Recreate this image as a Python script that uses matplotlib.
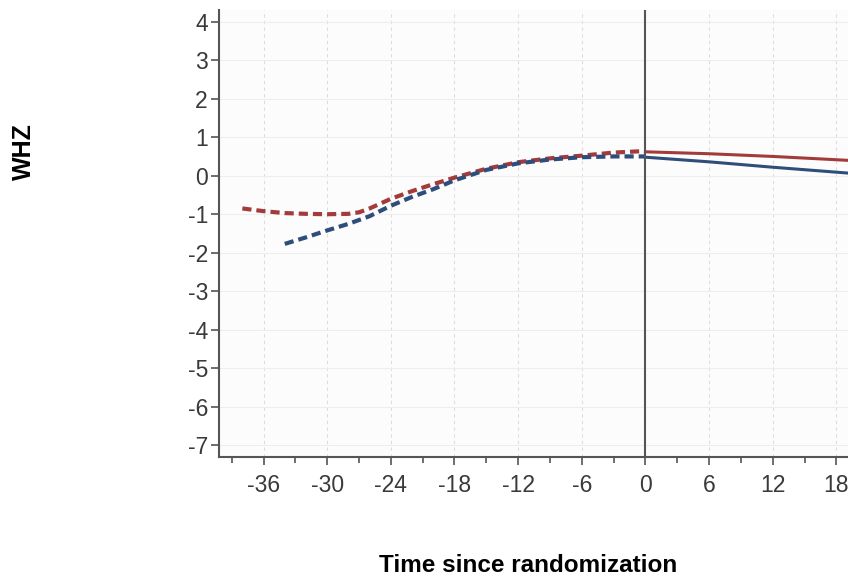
import matplotlib
matplotlib.use("Agg")
import matplotlib.pyplot as plt
from matplotlib.ticker import MultipleLocator

# WHZ trajectories before/after randomization
pre_red_x = [-38, -36, -34, -32, -30, -28, -27, -26, -24, -22, -20, -18, -15, -12, -9, -6, -3, 0]
pre_red_y = [-0.85, -0.92, -0.97, -0.99, -1.0, -0.99, -0.95, -0.85, -0.6, -0.4, -0.22, -0.05, 0.18, 0.35, 0.45, 0.52, 0.6, 0.64]
pre_blue_x = [-34, -32, -30, -28, -26, -24, -22, -20, -18, -15, -12, -9, -6, -3, 0]
pre_blue_y = [-1.77, -1.6, -1.42, -1.25, -1.05, -0.78, -0.55, -0.35, -0.12, 0.15, 0.32, 0.42, 0.48, 0.5, 0.5]
post_red_x = [0, 6, 12, 19]
post_red_y = [0.62, 0.57, 0.5, 0.4]
post_blue_x = [0, 6, 12, 19]
post_blue_y = [0.48, 0.36, 0.22, 0.07]

xticks = [-36, -30, -24, -18, -12, -6, 0, 6, 12, 18]
yticks = [4, 3, 2, 1, 0, -1, -2, -3, -4, -5, -6, -7]

red = "#a33b3b"
blue = "#2e4d7a"
axis_col = "#555555"

plt.rcParams["font.family"] = ["Liberation Sans", "DejaVu Sans"]

fig = plt.figure(figsize=(8.48, 5.85), dpi=100)
ax = fig.add_axes([219 / 848, 1 - 457 / 585, 629 / 848, 447 / 585])
ax.set_facecolor("#fcfcfc")

ax.plot(pre_red_x, pre_red_y, color=red, lw=3, ls=(0, (2.2, 1.2)))
ax.plot(pre_blue_x, pre_blue_y, color=blue, lw=3, ls=(0, (2.2, 1.2)))
ax.plot(post_red_x, post_red_y, color=red, lw=2.2)
ax.plot(post_blue_x, post_blue_y, color=blue, lw=2.2)
ax.axvline(0, color="#555555", lw=1.5)

ax.set_xlim(-40.2, 19.1)
ax.set_ylim(-7.3, 4.3)
ax.set_xticks(xticks)
ax.set_xticklabels([str(t) for t in xticks])
ax.xaxis.set_minor_locator(MultipleLocator(3))
ax.set_yticks(yticks)
ax.set_yticklabels([str(t) for t in yticks])

ax.grid(axis="x", which="major", color="#dddddd", ls=(0, (3, 3)), lw=0.8)
ax.grid(axis="y", which="major", color="#eeeeee", lw=0.8)

for s in ["top", "right"]:
    ax.spines[s].set_visible(False)
for s in ["left", "bottom"]:
    ax.spines[s].set_color(axis_col)
    ax.spines[s].set_linewidth(1.5)

ax.tick_params(axis="both", which="major", direction="out", length=6, width=1.2,
               color=axis_col, labelsize=16.5, labelcolor="#3a3a3a")
ax.tick_params(axis="x", which="minor", direction="out", length=4, width=1.2, color=axis_col)
ax.tick_params(axis="y", pad=2)
ax.tick_params(axis="x", pad=6)

fig.text(24 / 848, 1 - 152 / 585, "WHZ", rotation=90, ha="center", va="center",
         fontsize=18, fontweight="bold")
fig.text(528 / 848, 1 - 566 / 585, "Time since randomization", ha="center", va="center",
         fontsize=17.5, fontweight="bold")

fig.savefig("out.png", dpi=100, facecolor="white")
